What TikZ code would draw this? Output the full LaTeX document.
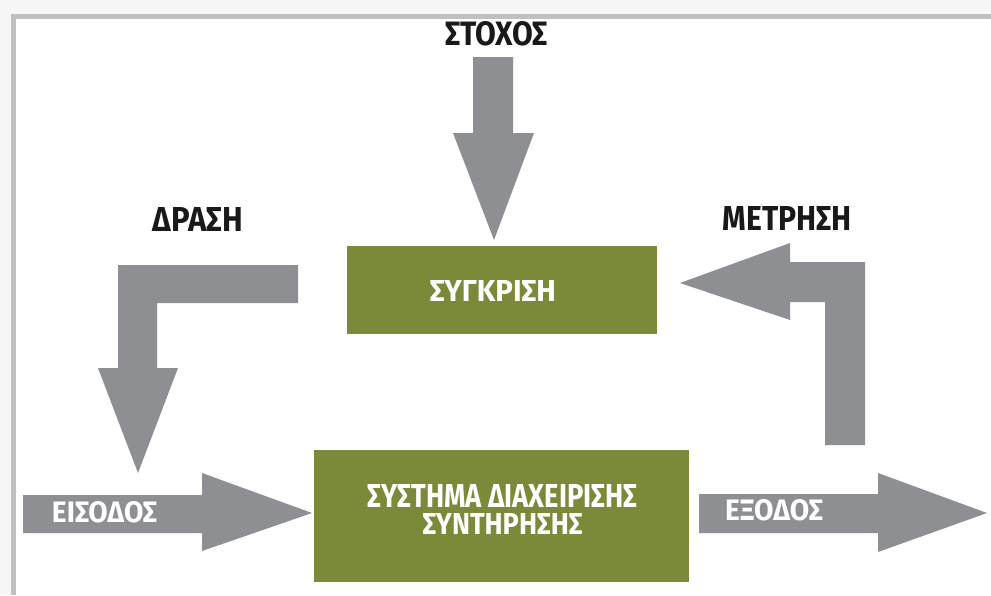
\documentclass[tikz,border=0pt]{standalone}
\usepackage{graphicx}
\usepackage{fontspec}
\newfontfamily\cf{Fira Sans}
\definecolor{olive}{HTML}{7B8A38}
\definecolor{arr}{HTML}{8E8F92}
\definecolor{frame}{HTML}{C0C0C0}
\definecolor{bg}{HTML}{F6F6F6}
\newcommand{\fitt}[3]{\resizebox{#1}{#2}{\cf\bfseries #3}}
\tikzset{
  gbox/.style={fill=olive, draw=none, inner sep=0pt},
  blk/.style={fill=arr, draw=none},
  lbl/.style={inner sep=0pt, text=black!90},
  wlbl/.style={inner sep=0pt, text=white},
}
\begin{document}
\begin{tikzpicture}[x=1pt,y=-1pt]
\useasboundingbox (0,0) rectangle (991,595);
\fill[bg] (0,0) rectangle (991,595);
\fill[white] (11,14) rectangle (991,595);
\fill[frame] (11,14) rectangle (16,595);
\fill[frame] (11,14) rectangle (991,19);

% boxes
\node[gbox, minimum width=310pt, minimum height=88pt] (cmp) at (502,290) {};
\node[gbox, minimum width=375pt, minimum height=132pt] (sys) at (501.5,516) {};

% arrows
\fill[blk] (473,57) -- (513,57) -- (513,133) -- (534,133) -- (494,240) -- (453,133) -- (473,133) -- cycle;
\fill[blk] (298,265) -- (298,303) -- (157,303) -- (157,368) -- (178,368) -- (138,473) -- (98,368) -- (118,368) -- (118,265) -- cycle;
\fill[blk] (865,262) -- (865,445) -- (825,445) -- (825,302) -- (790,302) -- (790,320) -- (680,283) -- (790,243) -- (790,262) -- cycle;
\fill[blk] (23,495) -- (202,495) -- (202,473) -- (312,513) -- (202,551) -- (202,533) -- (23,533) -- cycle;
\fill[blk] (699,494) -- (878,494) -- (878,473) -- (987,513) -- (878,552) -- (878,533) -- (699,533) -- cycle;

% labels
\node[lbl] (goal) at (496.5,33.5) {\fitt{103pt}{24pt}{ΣΤΟΧΟΣ}};
\node[lbl] (act) at (198,219.5) {\fitt{90pt}{24pt}{ΔΡΑΣΗ}};
\node[lbl] (meas) at (787.5,218.5) {\fitt{129pt}{24pt}{ΜΕΤΡΗΣΗ}};
\node[wlbl] (cmpt) at (493,291) {\fitt{126pt}{21pt}{ΣΥΓΚΡΙΣΗ}};
\node[wlbl] (in) at (104.5,512.5) {\fitt{105pt}{21pt}{ΕΙΣΟΔΟΣ}};
\node[wlbl] (out) at (774,510.5) {\fitt{98pt}{21pt}{ΕΞΟΔΟΣ}};
\node[wlbl, align=center, font=\fontsize{10}{10}\selectfont, anchor=north] (syst) at (502.5,484)
  {\fitt{269pt}{23pt}{ΣΥΣΤΗΜΑ ΔΙΑΧΕΙΡΙΣΗΣ}\\[5pt]\fitt{160pt}{21pt}{ΣΥΝΤΗΡΗΣΗΣ}};
\end{tikzpicture}
\end{document}
